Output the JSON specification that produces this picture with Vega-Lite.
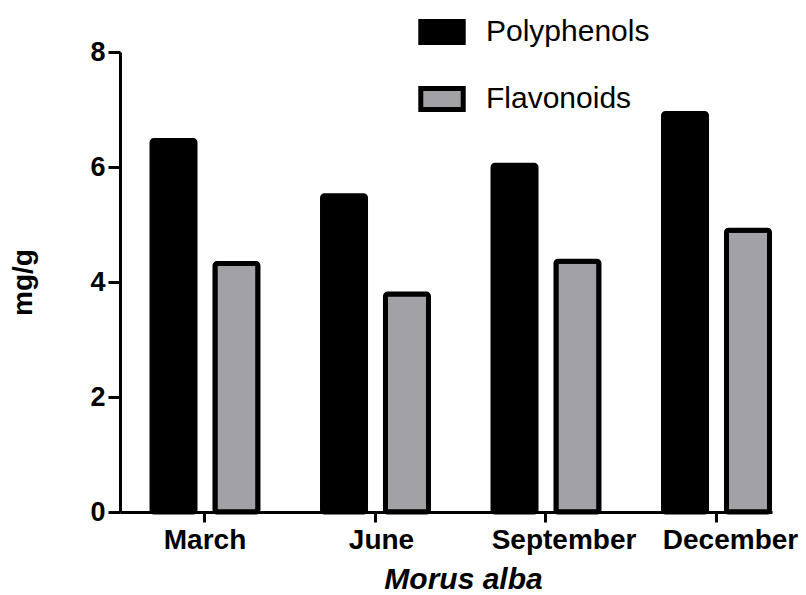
{
  "$schema": "https://vega.github.io/schema/vega-lite/v6.json",
  "autosize": {"type": "none"},
  "padding": {"left": 120, "top": 52, "right": 34, "bottom": 83},
  "width": 652,
  "height": 460,
  "background": "white",
  "config": {
    "view": {"stroke": null},
    "font": "Liberation Sans"
  },
  "data": {
    "values": [
      {"month": "March", "type": "Polyphenols", "value": 6.46},
      {"month": "March", "type": "Flavonoids", "value": 4.32},
      {"month": "June", "type": "Polyphenols", "value": 5.5},
      {"month": "June", "type": "Flavonoids", "value": 3.79},
      {"month": "September", "type": "Polyphenols", "value": 6.03},
      {"month": "September", "type": "Flavonoids", "value": 4.36},
      {"month": "December", "type": "Polyphenols", "value": 6.93},
      {"month": "December", "type": "Flavonoids", "value": 4.9}
    ]
  },
  "mark": {"type": "bar", "stroke": "black", "strokeWidth": 5, "cornerRadius": 2},
  "encoding": {
    "x": {
      "field": "month",
      "type": "nominal",
      "sort": ["March", "June", "September", "December"],
      "scale": {"paddingInner": 0.349, "paddingOuter": 0.0865, "align": 1},
      "axis": {
        "title": "Morus alba",
        "titleFontSize": 30,
        "titleFontWeight": "bold",
        "titleFontStyle": "italic",
        "titleColor": "black",
        "titlePadding": 10,
        "titleX": 343,
        "labelAngle": 0,
        "labelFontSize": 28,
        "labelFontWeight": "bold",
        "labelColor": "black",
        "labelPadding": 4,
        "labelLimit": 300,
        "labelOffset": {"expr": "datum.value == 'September' ? 18 : datum.value == 'December' ? 14 : datum.value == 'June' ? 6 : 0"},
        "domainColor": "black",
        "domainWidth": 3,
        "tickColor": "black",
        "tickWidth": 3,
        "tickSize": 10
      }
    },
    "xOffset": {
      "field": "type",
      "type": "nominal",
      "sort": ["Polyphenols", "Flavonoids"],
      "scale": {"paddingInner": 0.317, "paddingOuter": 0.04}
    },
    "y": {
      "field": "value",
      "type": "quantitative",
      "scale": {"domain": [0, 8], "nice": false},
      "axis": {
        "title": "mg/g",
        "titleFontSize": 28,
        "titleFontWeight": "bold",
        "titleColor": "black",
        "titlePadding": 52,
        "values": [0, 2, 4, 6, 8],
        "grid": false,
        "labelFontSize": 27,
        "labelFontWeight": "bold",
        "labelColor": "black",
        "labelPadding": 3,
        "domainColor": "black",
        "domainWidth": 3,
        "tickColor": "black",
        "tickWidth": 3,
        "tickSize": 12
      }
    },
    "fill": {
      "field": "type",
      "type": "nominal",
      "sort": ["Polyphenols", "Flavonoids"],
      "scale": {"domain": ["Polyphenols", "Flavonoids"], "range": ["black", "#a2a2a6"]},
      "legend": {
        "title": null,
        "orient": "none",
        "legendX": 298,
        "legendY": -44,
        "padding": 0,
        "symbolType": "M-1,-0.5H1V0.5H-1Z",
        "symbolSize": 1800,
        "symbolStrokeColor": "black",
        "symbolStrokeWidth": 5,
        "labelFontSize": 30,
        "labelColor": "black",
        "labelOffset": 20,
        "labelLimit": 400,
        "rowPadding": 22,
        "labelFont": "Liberation Sans"
      }
    }
  }
}
